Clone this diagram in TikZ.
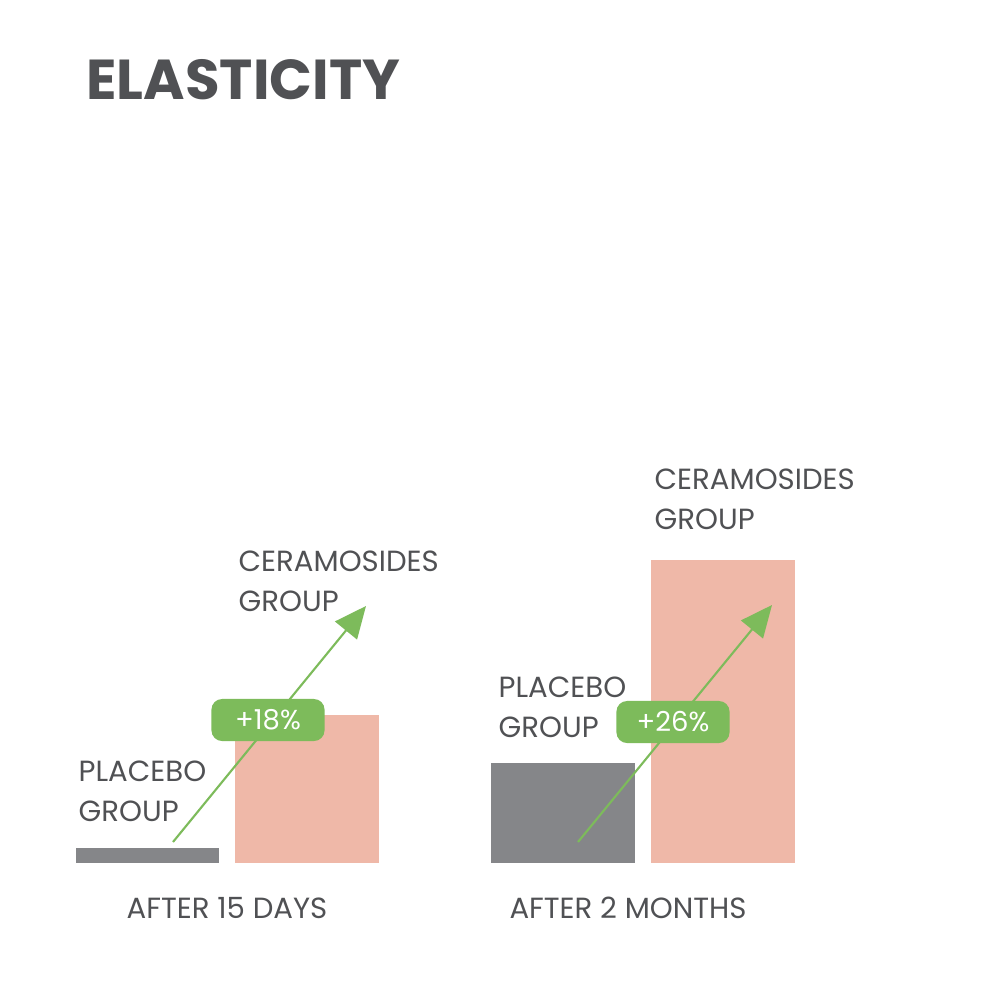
\documentclass[tikz,border=0pt]{standalone}
\usepackage{fontspec}
\setmainfont{Poppins}
\usetikzlibrary{arrows.meta}
\definecolor{ttlgray}{HTML}{505154}
\definecolor{plcgray}{HTML}{858689}
\definecolor{cersalmon}{HTML}{EFB8A8}
\definecolor{upgreen}{HTML}{7DBB5B}
\begin{document}
\begin{tikzpicture}[
        x=0.01cm,y=-0.01cm,
        barsty/.style={inner sep=0,outer sep=0},
        lblsty/.style={anchor=north west,align=left,inner sep=0,text=ttlgray,font=\fontsize{8.3pt}{11.4pt}\selectfont},
        axsty/.style={text=ttlgray,font=\fontsize{8.3pt}{10pt}\selectfont},
        badgesty/.style={fill=upgreen,text=white,rounded corners=3pt,minimum width=1.13cm,minimum height=0.42cm,inner sep=0,font=\fontsize{7.8pt}{9pt}\selectfont},
        upsty/.style={draw=upgreen,line width=0.6pt,-{Triangle[length=9pt,width=8pt]}},
    ]
    \useasboundingbox (0,0) rectangle (1000,1000);
    \node[anchor=west,text=ttlgray,font=\bfseries\fontsize{16pt}{18pt}\selectfont] (title) at (74,80) {ELASTICITY};

    % bars
    \fill[plcgray] (76,848) rectangle (219,863);
    \fill[cersalmon] (235,715) rectangle (379,863);
    \fill[plcgray] (491,763) rectangle (635,863);
    \fill[cersalmon] (651,560) rectangle (795,863);

    % growth arrows
    \coordinate (s1) at (173,842);
    \coordinate (e1) at (366,606);
    \coordinate (s2) at (578,842);
    \coordinate (e2) at (772,605);
    \draw[upsty] (s1) -- (e1);
    \draw[upsty] (s2) -- (e2);
    \node[badgesty] (b1) at (268,720) {+18\%};
    \node[badgesty] (b2) at (673,722) {+26\%};

    % labels
    \node[lblsty] (p1) at (78,760) {PLACEBO\\GROUP};
    \node[lblsty] (c1) at (238,550) {CERAMOSIDES\\GROUP};
    \node[lblsty] (p2) at (498,676) {PLACEBO\\GROUP};
    \node[lblsty] (c2) at (654,468) {CERAMOSIDES\\GROUP};
    \node[axsty] (a1) at (227,908) {AFTER 15 DAYS};
    \node[axsty] (a2) at (628,908) {AFTER 2 MONTHS};
\end{tikzpicture}
\end{document}
